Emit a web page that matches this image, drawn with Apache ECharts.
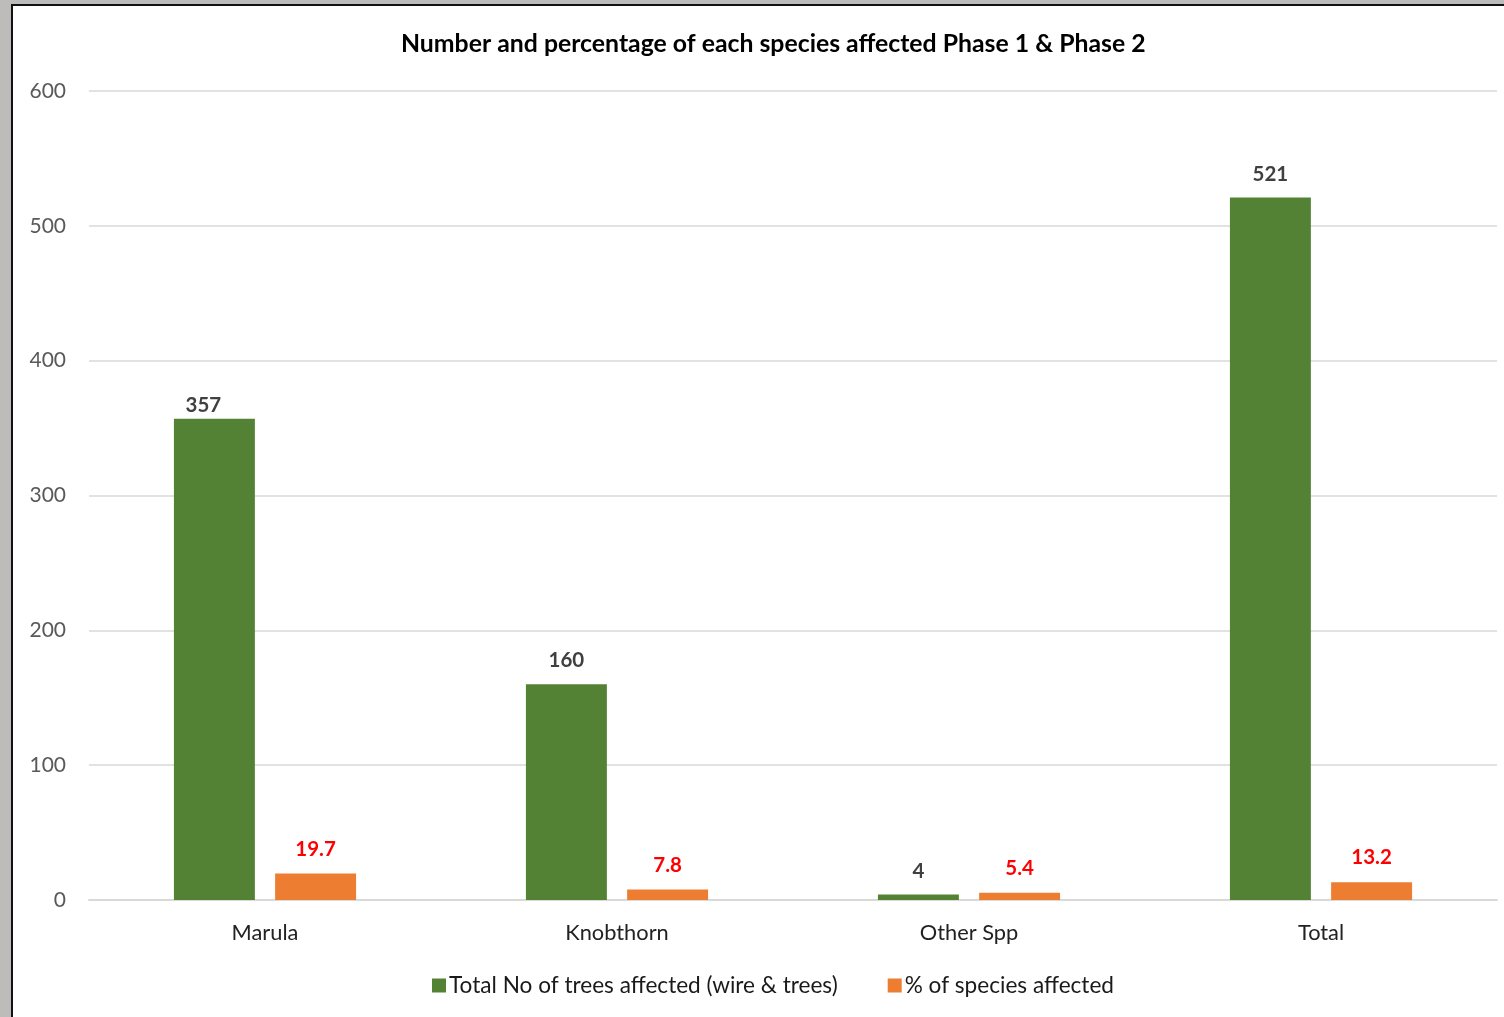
<!DOCTYPE html>
<html>
<head>
<meta charset="utf-8">
<style>
html,body{margin:0;padding:0;width:1504px;height:1017px;overflow:hidden;background:#bdbcba;}
#paper{position:absolute;left:11px;top:4px;width:1493px;height:1013px;background:#ffffff;border-left:2px solid #111;border-top:2px solid #111;box-sizing:border-box;}
#chart{position:absolute;left:0;top:0;width:1504px;height:1017px;}
</style>
<script src="https://cdn.jsdelivr.net/npm/echarts@6/dist/echarts.min.js"></script>
</head>
<body>
<div id="paper"></div>
<div id="chart"></div>
<script>
var categories = ['Marula', 'Knobthorn', 'Other Spp', 'Total'];
var treesAffected = [357, 160, 4, 521];
var percentAffected = [19.7, 7.8, 5.4, 13.2];
var yTicks = [0, 100, 200, 300, 400, 500, 600];

var FONT = 'Lato';
var greenData = treesAffected.map(function (v, i) {
  return i === 0 ? {value: v, label: {offset: [-11, 10]}} : v;
});
var chart = echarts.init(document.getElementById('chart'), null, {renderer: 'canvas'});
chart.setOption({
  backgroundColor: 'transparent',
  animation: false,
  textStyle: {fontFamily: FONT},
  title: {
    text: 'Number and percentage of each species affected Phase 1 & Phase 2',
    left: 396, top: 27,
    textStyle: {fontFamily: FONT, fontSize: 24.8, fontWeight: 'bold', color: '#000000'}
  },
  legend: {
    left: 427, top: 969,
    itemWidth: 14, itemHeight: 14, itemGap: 50,
    icon: 'rect',
    textStyle: {fontFamily: FONT, fontSize: 22.6, color: '#1a1a1a', padding: [0,0,0,-2]},
    data: ['Total No of trees affected (wire & trees)', '% of species affected']
  },
  grid: {left: 89, right: 7, top: 91, bottom: 117, containLabel: false},
  xAxis: {
    type: 'category',
    data: categories,
    axisLine: {lineStyle: {color: '#d9d9d9', width: 2}},
    axisTick: {show: false},
    axisLabel: {fontFamily: FONT, fontSize: 21.8, color: '#222222', margin: 22}
  },
  yAxis: {
    type: 'value',
    min: yTicks[0], max: yTicks[yTicks.length - 1], interval: 100,
    axisLine: {show: false},
    axisTick: {show: false},
    splitLine: {lineStyle: {color: '#d9d9d9', width: 1.5}},
    axisLabel: {fontFamily: FONT, fontSize: 21, color: '#595959', margin: 23}
  },
  series: [
    {
      name: 'Total No of trees affected (wire & trees)',
      type: 'bar',
      data: greenData,
      barWidth: '23%',
      barGap: '25%',
      itemStyle: {color: '#548235'},
      label: {show: true, position: 'top', distance: 13, fontFamily: FONT, fontSize: 20.5, fontWeight: 'bold', color: '#404040'}
    },
    {
      name: '% of species affected',
      type: 'bar',
      data: percentAffected,
      barWidth: '23%',
      itemStyle: {color: '#ed7d31'},
      label: {show: true, position: 'top', distance: 14, fontFamily: FONT, fontSize: 20.5, fontWeight: 'bold', color: '#ff0000'}
    }
  ]
});
</script>
</body>
</html>
